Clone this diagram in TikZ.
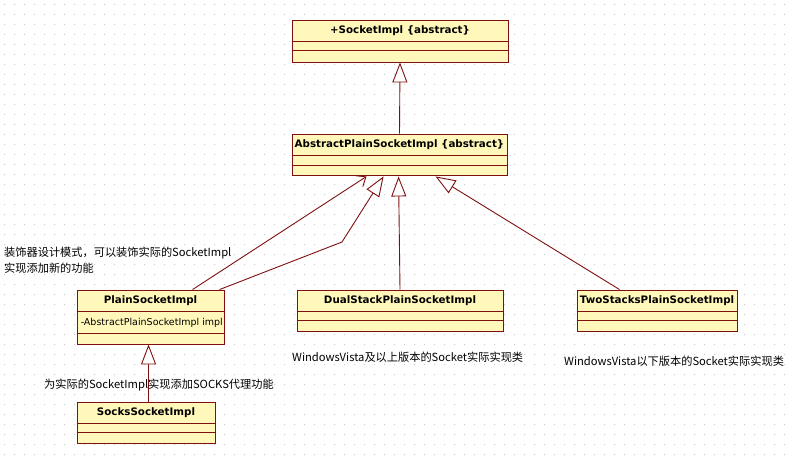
\documentclass[tikz,border=0pt]{standalone}
\usepackage{fontspec}
\setmainfont{DejaVu Sans}
\newfontfamily\cjk{Noto Sans CJK SC}
\newfontfamily\clsfont{DejaVu Sans}
\usetikzlibrary{arrows.meta,calc}
\definecolor{umlred}{RGB}{128,16,16}
\definecolor{umlfill}{RGB}{255,248,186}
\definecolor{dotc}{RGB}{205,205,205}
\tikzset{
  cls/.style={draw=umlred, fill=umlfill, line width=0.9pt, inner sep=0pt, rectangle},
  clsname/.style={font=\clsfont\bfseries\fontsize{10.3}{12}\selectfont, inner sep=0pt},
  attr/.style={font=\clsfont\fontsize{9.5}{11}\selectfont, inner sep=0pt, anchor=west},
  sepline/.style={draw=umlred, line width=0.9pt},
  note/.style={font=\cjk\fontsize{11.2}{16}\selectfont, inner sep=0pt, anchor=west, align=left},
  gen/.style={draw=umlred, line width=0.9pt, -{Triangle[length=20pt,width=15pt,fill=white,line width=0.9pt]}},
  assoc/.style={draw=umlred, line width=0.9pt, -{Straight Barb[length=8pt,width=13pt,line width=0.9pt]}},
}
\begin{document}
\begin{tikzpicture}[x=1pt,y=-1pt]
\fill[white] (0,0) rectangle (794,457);
\useasboundingbox (0,0) rectangle (794,457);
\fill[dotc] \foreach \i in {0,...,79} { \foreach \j in {0,...,45} { (4+10*\i,4+10*\j) rectangle ++(1,1) } };

% classes
\node[cls, minimum width=216pt, minimum height=42pt] (si) at (400,41) {};
\node[clsname] (sit) at ($(si.north)+(0,11)$) {+SocketImpl \{abstract\}};
\draw[sepline] ($(si.north west)+(0,22)$) -- ($(si.north east)+(0,22)$);
\draw[sepline] ($(si.north west)+(0,31)$) -- ($(si.north east)+(0,31)$);

\node[cls, minimum width=215pt, minimum height=41pt] (ap) at (399.5,154.5) {};
\node[clsname] (apt) at ($(ap.north)+(0,11)$) {AbstractPlainSocketImpl \{abstract\}};
\draw[sepline] ($(ap.north west)+(0,22)$) -- ($(ap.north east)+(0,22)$);
\draw[sepline] ($(ap.north west)+(0,32)$) -- ($(ap.north east)+(0,32)$);

\node[cls, minimum width=147pt, minimum height=54pt] (ps) at (150.5,317) {};
\node[clsname] (pst) at ($(ps.north)+(0,11)$) {PlainSocketImpl};
\draw[sepline] ($(ps.north west)+(0,22)$) -- ($(ps.north east)+(0,22)$);
\draw[sepline] ($(ps.north west)+(0,44)$) -- ($(ps.north east)+(0,44)$);
\node[attr] (psa) at ($(ps.north west)+(4,33)$) {-AbstractPlainSocketImpl impl};

\node[cls, minimum width=206pt, minimum height=41pt] (ds) at (400,310.5) {};
\node[clsname] (dst) at ($(ds.north)+(0,11)$) {DualStackPlainSocketImpl};
\draw[sepline] ($(ds.north west)+(0,22)$) -- ($(ds.north east)+(0,22)$);
\draw[sepline] ($(ds.north west)+(0,31)$) -- ($(ds.north east)+(0,31)$);

\node[cls, minimum width=160pt, minimum height=41pt] (ts) at (657,310.5) {};
\node[clsname] (tst) at ($(ts.north)+(0,11)$) {TwoStacksPlainSocketImpl};
\draw[sepline] ($(ts.north west)+(0,22)$) -- ($(ts.north east)+(0,22)$);
\draw[sepline] ($(ts.north west)+(0,31)$) -- ($(ts.north east)+(0,31)$);

\node[cls, minimum width=138pt, minimum height=41pt] (ss) at (146,422.5) {};
\node[clsname] (sst) at ($(ss.north)+(0,11)$) {SocksSocketImpl};
\draw[sepline] ($(ss.north west)+(0,22)$) -- ($(ss.north east)+(0,22)$);
\draw[sepline] ($(ss.north west)+(0,31)$) -- ($(ss.north east)+(0,31)$);

% connectors
\draw[gen] (ap.north) -- (si.south);
\draw[assoc] ($(ps.north west)+(116,0)$) -- ($(ap.south west)+(75,1)$);
\coordinate (bend) at (342,242);
\draw[gen] ($(ps.north west)+(143,0)$) -- (bend) -- ($(ap.south west)+(92,1)$);
\draw[gen] (ds.north) -- ($(ap.south west)+(107,1)$);
\draw[gen] ($(ts.north west)+(43,0)$) -- ($(ap.south west)+(144,1)$);
\draw[gen] ($(ss.north west)+(72,0)$) -- ($(ps.south west)+(72,0)$);

% notes
\node[note] (n1) at (4,260) {装饰器设计模式，可以装饰实际的SocketImpl\\实现添加新的功能};
\node[note] (n2) at (292,357) {WindowsVista及以上版本的Socket实际实现类};
\node[note] (n3) at (564,361) {WindowsVista以下版本的Socket实际实现类};
\node[note] (n4) at (44,385) {为实际的SocketImpl实现添加SOCKS代理功能};
\end{tikzpicture}
\end{document}
